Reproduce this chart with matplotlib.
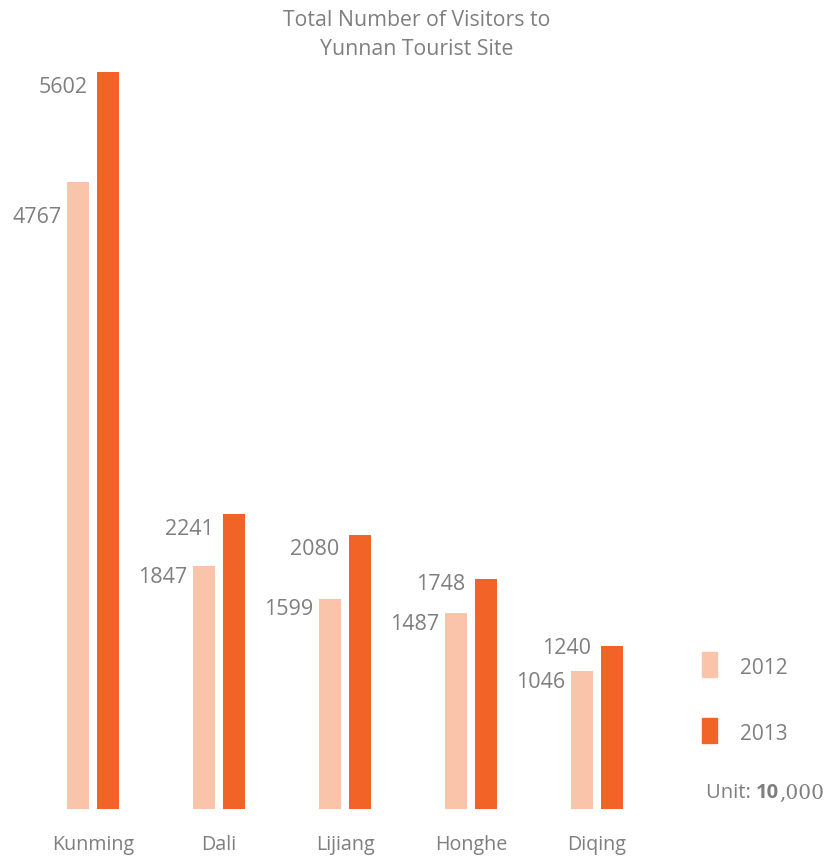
import matplotlib
matplotlib.use("Agg")
import matplotlib.pyplot as plt
from matplotlib.patches import Rectangle

# visitors to Yunnan tourist sites, unit: 10,000
cities = ["Kunming", "Dali", "Lijiang", "Honghe", "Diqing"]
years = ["2012", "2013"]
visitors_2012 = [4767, 1847, 1599, 1487, 1046]
visitors_2013 = [5602, 2241, 2080, 1748, 1240]

# vertical nudge (points) of each value label below its bar top
nudge_2012 = [-26, -8, -8, -8, -8]
nudge_2013 = [-11, -11, -10, -4, -2]

c2012 = "#F9C4AA"
c2013 = "#F26327"
grey = "#7f7f7f"
plt.rcParams["font.family"] = ["Open Sans", "DejaVu Sans"]

W, H = 828, 859
fig = plt.figure(figsize=(W / 100, H / 100), dpi=100)

# axes spans the whole width; zero line sits at y = 809 px
x0, step = 93, 126.0
ax = fig.add_axes([0, (H - 809) / H, 1, 809 / H])
ax.set_xlim(-x0 / step, (W - x0) / step)
ax.set_ylim(0, 5602 * 809 / 737)
ax.axis("off")

bw = 22 / step
off = 15 / step
xs = range(len(cities))
ax.bar([x - off for x in xs], visitors_2012, width=bw, color=c2012)
ax.bar([x + off for x in xs], visitors_2013, width=bw, color=c2013)

for x, v, dy in zip(xs, visitors_2012, nudge_2012):
    ax.annotate(str(v), (x - off - bw / 2, v), xytext=(-4, dy),
                textcoords="offset points", ha="right", va="center",
                fontsize=15.5, color=grey)
for x, v, dy in zip(xs, visitors_2013, nudge_2013):
    ax.annotate(str(v), (x + off - bw / 2, v), xytext=(-7, dy),
                textcoords="offset points", ha="right", va="center",
                fontsize=15.5, color=grey)

for x, name in zip(xs, cities):
    fig.text((x0 + step * x) / W, 1 - 845 / H, name, ha="center",
             va="center", fontsize=14.2, color=grey)

fig.text(417 / W, 1 - 35 / H, "Total Number of Visitors to\nYunnan Tourist Site",
         ha="center", va="center", fontsize=15.3, color=grey, linespacing=1.55)

# legend swatches and labels
for (col, yr, ytop) in [(c2012, years[0], 652), (c2013, years[1], 718)]:
    fig.patches.append(Rectangle((702 / W, 1 - (ytop + 25) / H), 15 / W, 25 / H,
                                 transform=fig.transFigure, color=col))
    fig.text(740 / W, 1 - (ytop + 16) / H, yr, ha="left", va="center",
             fontsize=15, color=grey)

t = fig.text(706 / W, 1 - 798 / H, "Unit: ", ha="left", va="baseline",
             fontsize=14.5, color=grey)
t = ax.annotate("10", xy=(1, 0), xycoords=t, ha="left", va="bottom",
                fontsize=14.5, color=grey, fontweight="bold")
ax.annotate(",000", xy=(1, 0), xycoords=t, ha="left", va="bottom",
            fontsize=14.5, color=grey, family="DejaVu Serif")

fig.savefig("out.png", dpi=100)
